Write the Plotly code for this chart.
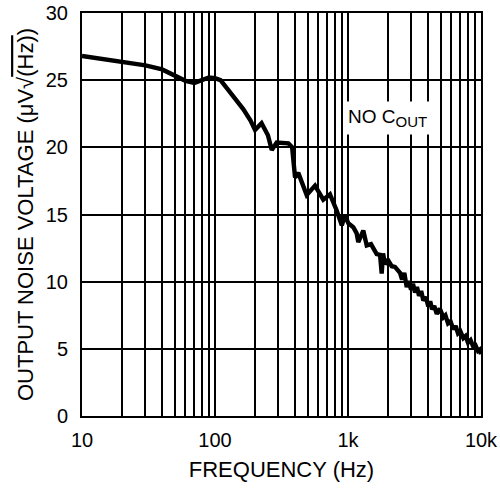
import plotly.graph_objects as go

# Frequency (Hz) and output noise voltage (uV/sqrt(Hz))
freq_hz = [10, 15, 20, 30, 40, 50, 60, 70, 80, 90, 100, 110, 130, 163, 185, 200,
           224, 250, 267, 291, 356, 380, 400, 423, 489, 565, 652, 732, 822,
           898, 949, 1005, 1096, 1162, 1195, 1303, 1383, 1490, 1643, 1742,
           1792, 1834, 1897, 2000, 2131, 2256, 2461, 2550, 2650, 2763, 2870,
           2978, 3080, 3193, 3300, 3421, 3550, 3684, 3850, 4017, 4150, 4283,
           4450, 4648, 4900, 5213, 5400, 5651, 5900, 6196, 6450, 6718, 7000,
           7365, 7650, 7985, 8350, 8758, 9100, 9487, 9800, 10000]
noise_uv = [26.8, 26.55, 26.4, 26.1, 25.8, 25.3, 24.95, 24.8, 25.05, 25.2, 25.15,
            25.0, 24.1, 22.85, 22.0, 21.3, 21.8, 20.9, 19.8, 20.35, 20.3, 20.0,
            17.75, 18.1, 16.45, 17.15, 16.1, 16.5, 15.3,
            14.2, 14.95, 14.35, 14.05, 13.6, 12.95, 13.8, 12.7, 12.8, 12.05, 12.0,
            10.6, 12.1, 11.3, 11.6, 11.15, 11.1, 10.65, 10.15, 10.65, 9.6, 10.05,
            9.4, 9.85, 9.2, 9.6, 8.95, 9.3, 8.6, 8.85, 8.15, 8.55, 7.95,
            8.2, 7.6, 8.0, 7.35, 7.5, 6.9, 7.05, 6.45, 6.7, 6.15, 6.3,
            5.8, 5.95, 5.45, 5.65, 5.15, 5.25, 4.85, 4.95, 4.6]

x_tick_vals = [10, 100, 1000, 10000]
x_tick_text = ["10", "100", "1k", "10k"]
x_minor_vals = [20, 30, 40, 50, 60, 70, 80, 90,
                200, 300, 400, 500, 600, 700, 800, 900,
                2000, 3000, 4000, 5000, 6000, 7000, 8000, 9000]
y_tick_vals = [0, 5, 10, 15, 20, 25, 30]

FONT = "Liberation Sans, Arial, Helvetica, sans-serif"

fig = go.Figure()
fig.add_trace(go.Scatter(x=freq_hz, y=noise_uv, mode="lines",
                         line=dict(color="black", width=4.4),
                         showlegend=False, hoverinfo="skip"))

fig.add_annotation(x=3.3, y=22.2, xref="x", yref="y",
                   text="NO C<sub><span style='font-size:15px'>OUT</span></sub>",
                   showarrow=False,
                   font=dict(family=FONT, size=19, color="black"),
                   bgcolor="white", borderpad=4)

fig.update_layout(
    width=500, height=498,
    margin=dict(l=82, r=19, t=13, b=82),
    paper_bgcolor="white", plot_bgcolor="white",
    font=dict(family=FONT, size=20, color="black"),
)
fig.update_xaxes(type="log", range=[1, 4], tickvals=x_tick_vals, ticktext=x_tick_text,
                 showgrid=True, gridcolor="black", gridwidth=1.6,
                 minor=dict(tickvals=x_minor_vals, showgrid=True, gridcolor="black",
                            gridwidth=1.6, ticks=""),
                 showline=True, linecolor="black", linewidth=2, mirror=True,
                 ticks="", ticklabelstandoff=5, zeroline=False, automargin=False,
                 title=dict(text="FREQUENCY (Hz)", standoff=12,
                            font=dict(family=FONT, size=22)))
fig.update_yaxes(range=[0, 30], tickvals=y_tick_vals,
                 showgrid=True, gridcolor="black", gridwidth=1.6,
                 showline=True, linecolor="black", linewidth=2, mirror=True,
                 ticks="", ticklabelstandoff=8, zeroline=False, automargin=False,
                 title=dict(text="OUTPUT NOISE VOLTAGE (\u03bcV\u221a<span style='text-decoration:overline'>(Hz)</span>)",
                            standoff=6, font=dict(family=FONT, size=22)))

fig.write_html("out.html", config={"displayModeBar": False},
               post_script="document.body.style.margin='0';document.body.style.overflow='hidden';")
